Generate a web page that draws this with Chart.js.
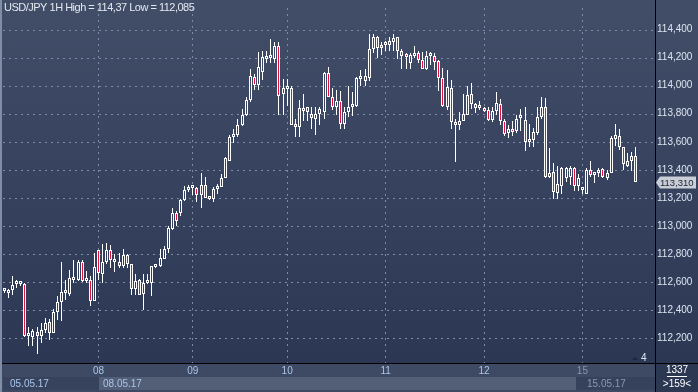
<!DOCTYPE html>
<html><head><meta charset="utf-8">
<script src="https://cdn.jsdelivr.net/npm/chart.js@4.4.0/dist/chart.umd.min.js"></script>
<style>html,body{margin:0;padding:0;background:#2c3753;overflow:hidden}canvas{display:block}</style>
</head><body>
<canvas id="c" width="698" height="392"></canvas>
<script>
const openP = [
112.535,112.522,112.545,112.586,112.59,112.585,112.214,112.207,112.242,112.214,
112.258,112.316,112.237,112.386,112.456,112.521,112.514,112.618,112.614,112.741,
112.609,112.614,112.467,112.83,112.66,112.741,112.83,112.746,112.746,112.718,
112.793,112.73,112.549,112.614,112.514,112.595,112.595,112.707,112.714,112.765,
112.839,112.981,113.09,113.09,113.183,113.257,113.269,113.269,113.218,113.292,
113.194,113.194,113.264,113.276,113.345,113.466,113.631,113.647,113.717,113.794,
113.899,114.059,114.008,114.1,114.19,114.195,114.193,114.286,113.937,113.978,
113.98,113.724,113.705,113.82,113.845,113.8,113.765,113.8,113.81,114.09,
113.92,113.845,113.89,113.73,113.81,113.845,113.857,114.048,114.036,114.054,
114.26,114.35,114.27,114.29,114.29,114.31,114.347,114.25,114.21,114.16,
114.21,114.23,114.18,114.12,114.208,114.21,114.175,114.054,113.85,113.98,
113.736,113.722,113.75,113.79,113.938,113.868,113.84,113.833,113.83,113.757,
113.817,113.868,113.75,113.665,113.694,113.676,113.768,113.757,113.6,113.613,
113.66,113.775,113.845,113.35,113.385,113.234,113.287,113.345,113.35,113.415,
113.287,113.258,113.23,113.4,113.36,113.375,113.405,113.345,113.38,113.62,
113.64,113.56,113.43,113.46,113.5];
const highP = [
112.55,112.55,112.644,112.614,112.609,112.595,112.277,112.265,112.277,112.307,
112.342,112.335,112.409,112.498,112.741,112.618,112.683,112.76,112.755,112.76,
112.679,112.644,112.806,112.83,112.869,112.881,112.865,112.8,112.806,112.834,
112.8,112.73,112.66,112.625,112.66,112.66,112.718,112.73,112.834,112.858,
112.997,113.125,113.108,113.19,113.287,113.294,113.287,113.276,113.38,113.35,
113.213,113.276,113.299,113.368,113.49,113.645,113.689,113.764,113.833,113.916,
114.122,114.08,114.24,114.25,114.25,114.33,114.31,114.31,114.05,114.05,
114.0,113.764,113.9,113.94,113.85,113.845,113.85,113.845,114.1,114.136,
113.98,113.97,113.96,113.85,113.997,113.954,114.06,114.11,114.12,114.37,
114.365,114.355,114.31,114.315,114.344,114.365,114.35,114.26,114.23,114.23,
114.28,114.25,114.24,114.245,114.24,114.23,114.18,114.126,114.11,114.04,
113.764,113.815,113.938,114.0,114.02,113.875,113.89,113.85,113.845,113.85,
113.954,113.907,113.764,113.717,113.75,113.794,113.833,113.85,113.73,113.7,
113.85,113.92,113.915,113.555,113.45,113.43,113.42,113.42,113.43,113.42,
113.37,113.27,113.41,113.46,113.385,113.41,113.41,113.4,113.64,113.73,
113.69,113.565,113.52,113.53,113.56];
const lowP = [
112.52,112.486,112.509,112.56,112.572,112.207,112.144,112.144,112.085,112.165,
112.235,112.189,112.235,112.33,112.323,112.474,112.502,112.595,112.609,112.6,
112.595,112.433,112.463,112.618,112.595,112.73,112.702,112.672,112.702,112.702,
112.702,112.509,112.509,112.505,112.398,112.59,112.502,112.70,112.707,112.765,
112.806,112.974,112.997,113.07,113.18,113.241,113.218,113.171,113.131,113.199,
113.183,113.171,113.229,113.276,113.34,113.46,113.589,113.636,113.71,113.787,
113.88,113.97,113.97,114.04,114.16,114.16,114.16,113.79,113.79,113.857,
113.717,113.636,113.636,113.75,113.75,113.69,113.647,113.717,113.764,113.917,
113.83,113.79,113.69,113.69,113.78,113.787,113.85,113.996,113.996,114.036,
114.235,114.2,114.22,114.25,114.25,114.25,114.19,114.12,114.12,114.12,
114.2,114.16,114.12,114.11,114.15,114.11,113.96,113.85,113.83,113.69,
113.454,113.687,113.75,113.79,113.833,113.806,113.83,113.81,113.75,113.74,
113.79,113.717,113.64,113.63,113.64,113.66,113.68,113.535,113.566,113.56,
113.65,113.764,113.34,113.345,113.194,113.194,113.23,113.31,113.29,113.25,
113.25,113.23,113.23,113.35,113.304,113.35,113.34,113.33,113.375,113.57,
113.54,113.4,113.42,113.39,113.31];
const closeP = [
112.54,112.545,112.579,112.602,112.598,112.214,112.222,112.254,112.214,112.258,
112.307,112.237,112.386,112.456,112.532,112.532,112.63,112.625,112.741,112.609,
112.614,112.467,112.707,112.665,112.741,112.83,112.76,112.76,112.718,112.795,
112.73,112.549,112.609,112.509,112.595,112.614,112.714,112.718,112.769,112.834,
112.985,113.095,113.039,113.183,113.257,113.276,113.28,113.218,113.292,113.199,
113.206,113.264,113.287,113.345,113.485,113.636,113.647,113.722,113.792,113.899,
114.066,114.008,114.136,114.206,114.2,114.198,114.286,113.927,113.984,113.984,
113.72,113.705,113.84,113.833,113.81,113.77,113.8,113.833,114.09,113.917,
113.845,113.89,113.73,113.81,113.85,113.868,114.054,114.052,114.07,114.258,
114.35,114.27,114.29,114.292,114.317,114.34,114.25,114.21,114.205,114.217,
114.225,114.18,114.12,114.21,114.212,114.17,114.054,113.857,113.99,113.74,
113.722,113.75,113.8,113.93,113.868,113.84,113.857,113.817,113.757,113.817,
113.875,113.75,113.659,113.694,113.67,113.764,113.772,113.596,113.62,113.67,
113.78,113.85,113.35,113.38,113.24,113.3,113.415,113.415,113.415,113.287,
113.345,113.262,113.4,113.36,113.372,113.4,113.35,113.375,113.625,113.647,
113.56,113.44,113.46,113.5,113.31];
const dayTickIdx = [23, 46, 69, 93, 117, 141];
const dayLabels = ['08', '09', '10', '11', '12', '15'];
const yTickValues = [112.2, 112.4, 112.6, 112.8, 113.0, 113.2, 113.4, 113.6, 113.8, 114.0, 114.2, 114.4];
const dateLabels = ['05.05.17', '08.05.17', '15.05.17'];
const titleText = 'USD/JPY 1H High = 114,37 Low = 112,085';
const barCountText = '>159<';
const sideCountText = '1337';
const markerText = '4';

const canvas = document.getElementById('c');
const ctx0 = canvas.getContext('2d');
const bgGrad = ctx0.createLinearGradient(0, 0, 0, 363);
bgGrad.addColorStop(0, '#424e68');
bgGrad.addColorStop(1, '#2c3754');
const FONT = 'Liberation Sans';
const GRID = '#7d8ba8';
const fmt = v => v.toFixed(3).replace('.', ',');

const bgPlugin = {
  id: 'bgPlugin',
  beforeDraw(chart) {
    const {ctx, width, height, chartArea: a} = chart;
    const xs = chart.scales.x;
    ctx.save();
    ctx.fillStyle = bgGrad;
    ctx.fillRect(0, 0, width, a.bottom);
    ctx.fillStyle = '#3e4a64';
    ctx.fillRect(0, a.bottom, width, height - a.bottom);
    const p08 = Math.round(xs.getPixelForValue(dayTickIdx[0]));
    const p15 = Math.round(xs.getPixelForValue(dayTickIdx[dayTickIdx.length - 1]));
    ctx.fillStyle = '#37435c';
    ctx.fillRect(3, 377, p08 - 3, 13);
    ctx.fillStyle = '#535f77';
    ctx.fillRect(p08, 377, p15 - 6 - p08, 13);
    ctx.fillStyle = '#36425b';
    ctx.fillRect(p15 - 6, 377, a.right - p15 + 6, 13);
    ctx.fillStyle = '#2c3752';
    ctx.fillRect(a.right, a.bottom, width - a.right, height - a.bottom);
    ctx.restore();
  },
  beforeDatasetsDraw(chart) {
    const {ctx, chartArea: a} = chart;
    const xs = chart.scales.x, ys = chart.scales.y;
    ctx.save();
    ctx.strokeStyle = GRID;
    ctx.lineWidth = 1;
    ctx.setLineDash([2, 4]);
    ctx.beginPath();
    yTickValues.forEach(v => {
      const y = Math.round(ys.getPixelForValue(v)) + 0.5;
      ctx.moveTo(a.left, y); ctx.lineTo(a.right, y);
    });
    dayTickIdx.forEach(v => {
      const x = Math.floor(xs.getPixelForValue(v)) + 0.5;
      ctx.moveTo(x, a.top); ctx.lineTo(x, a.bottom);
    });
    ctx.stroke();
    ctx.restore();
  }
};

const snapPlugin = {
  id: 'snapPlugin',
  afterDatasetsUpdate(chart) {
    chart.data.datasets.forEach((ds, di) => {
      chart.getDatasetMeta(di).data.forEach(el => {
        el.x = Math.floor(el.x) + 0.5;
        el.y = Math.round(el.y);
        el.base = Math.round(el.base);
      });
    });
  }
};

const overlayPlugin = {
  id: 'overlayPlugin',
  afterDraw(chart) {
    const {ctx, width, height, chartArea: a} = chart;
    const xs = chart.scales.x, ys = chart.scales.y;
    ctx.save();
    ctx.strokeStyle = '#000000';
    ctx.lineWidth = 1;
    ctx.beginPath();
    ctx.moveTo(a.right + 0.5, 0); ctx.lineTo(a.right + 0.5, height);
    ctx.moveTo(0, a.bottom + 0.5); ctx.lineTo(width, a.bottom + 0.5);
    ctx.stroke();
    ctx.fillStyle = '#7f8da6';
    ctx.fillRect(0, 0, 2, height);
    ctx.font = '11px "' + FONT + '"';
    ctx.textBaseline = 'top';
    ctx.textAlign = 'left';
    ctx.fillStyle = '#e4e9f1';
    if ('letterSpacing' in ctx) ctx.letterSpacing = '-0.5px';
    ctx.fillText(titleText, 4, 2);
    if ('letterSpacing' in ctx) ctx.letterSpacing = '0px';
    ctx.font = '10px "' + FONT + '"';
    const p08 = Math.round(xs.getPixelForValue(dayTickIdx[0]));
    const p15 = Math.round(xs.getPixelForValue(dayTickIdx[dayTickIdx.length - 1]));
    ctx.fillStyle = '#a9c6ec';
    ctx.fillText(dateLabels[0], 10, 379);
    ctx.fillText(dateLabels[1], p08 + 4, 379);
    ctx.fillStyle = '#8d97aa';
    ctx.fillText(dateLabels[2], p15 + 5, 379);
    ctx.fillStyle = '#dfe6f0';
    ctx.fillText(markerText, 641, 353);
    ctx.fillStyle = '#1e2638';
    ctx.beginPath();
    ctx.moveTo(632, 360); ctx.lineTo(635, 357); ctx.lineTo(638, 360); ctx.closePath();
    ctx.fill();
    ctx.textAlign = 'center';
    ctx.fillStyle = '#ffffff';
    ctx.fillText(sideCountText, 677, 365);
    ctx.fillRect(667, 376, 20, 1);
    ctx.fillText(barCountText, 677, 379);
    const last = closeP.length - 1;
    const py = Math.round(ys.getPixelForValue(closeP[last]));
    ctx.fillStyle = '#c8cdd6';
    ctx.beginPath();
    ctx.moveTo(656, py + 0.5);
    ctx.lineTo(660, py - 5.5);
    ctx.lineTo(696, py - 5.5);
    ctx.lineTo(696, py + 6.5);
    ctx.lineTo(660, py + 6.5);
    ctx.closePath();
    ctx.fill();
    ctx.fillStyle = '#1b2233';
    ctx.textAlign = 'left';
    ctx.textBaseline = 'middle';
    ctx.font = '9.5px "' + FONT + '"';
    ctx.fillText(fmt(closeP[last]), 660, py + 1);
    ctx.restore();
  }
};

new Chart(canvas, {
  type: 'bar',
  data: {
    datasets: [
      {
        label: 'wick',
        data: lowP.map((l, i) => ({x: i, y: [l, highP[i]]})),
        backgroundColor: '#ffffff',
        borderWidth: 0,
        barThickness: 1,
        grouped: false,
        inflateAmount: 0,
        order: 2
      },
      {
        label: 'body',
        data: openP.map((o, i) => ({x: i, y: [o, closeP[i]]})),
        backgroundColor: c => (closeP[c.dataIndex] < openP[c.dataIndex] ? '#e3113d' : bgGrad),
        borderColor: '#ffffff',
        borderWidth: 1,
        borderSkipped: false,
        barThickness: 3,
        minBarLength: 3,
        grouped: false,
        inflateAmount: 0,
        order: 1
      }
    ]
  },
  options: {
    responsive: false,
    animation: false,
    events: [],
    layout: {padding: {left: 3, top: 0, right: 0, bottom: 0}},
    plugins: {legend: {display: false}, tooltip: {enabled: false}, title: {display: false}},
    scales: {
      x: {
        type: 'linear', min: -0.3, max: 158.7, offset: false, position: 'bottom',
        grid: {display: false, drawTicks: false, tickLength: 0},
        border: {display: false},
        afterBuildTicks: s => { s.ticks = dayTickIdx.map(v => ({value: v})); },
        afterFit: s => { s.height = 29; },
        ticks: {
          autoSkip: false, maxRotation: 0, padding: 2,
          color: c => (c.index === dayLabels.length - 1 ? '#8d97aa' : '#a9c6ec'),
          font: {family: FONT, size: 10},
          callback: (v, i) => dayLabels[i]
        }
      },
      y: {
        type: 'linear', position: 'right', min: 112.0237, max: 114.5533,
        grid: {display: false, drawTicks: false, tickLength: 0},
        border: {display: false},
        afterBuildTicks: s => { s.ticks = yTickValues.map(v => ({value: v})); },
        afterFit: s => { s.width = 43; },
        ticks: {padding: 2, color: '#dde5f0', font: {family: FONT, size: 10}, callback: v => fmt(v)}
      }
    }
  },
  plugins: [bgPlugin, snapPlugin, overlayPlugin]
});
</script>
</body></html>
